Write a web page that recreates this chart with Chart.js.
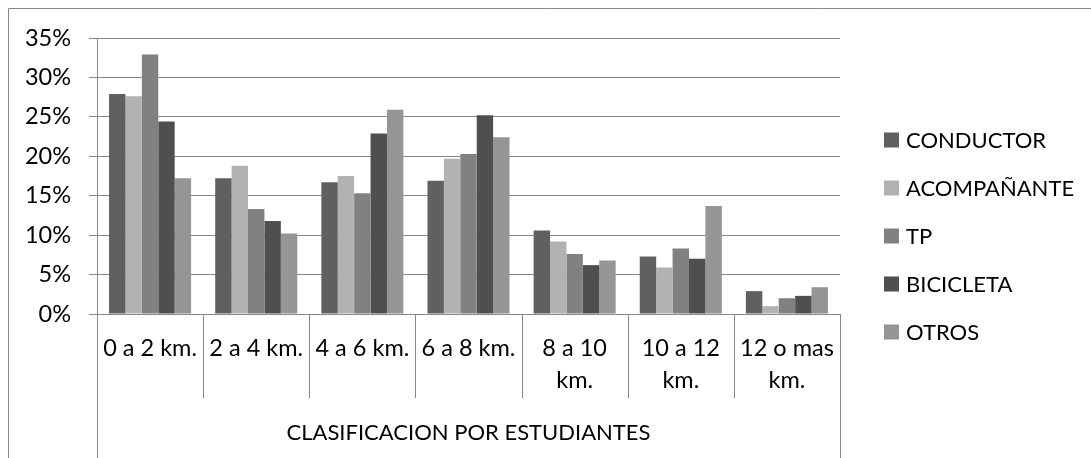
<!DOCTYPE html>
<html lang="es">
<head>
<meta charset="utf-8">
<title>Clasificación por estudiantes</title>
<script src="https://cdn.jsdelivr.net/npm/chart.js@4/dist/chart.umd.min.js"></script>
<style>
  html, body { margin: 0; padding: 0; background: #ffffff; }
  #wrap { width: 1091px; height: 458px; }
</style>
</head>
<body>
<div id="wrap"><canvas id="chart" width="1091" height="458"></canvas></div>
<script>
// Distance bands (two-line labels where the text wraps)
const categories = [
  ['0 a 2 km.'],
  ['2 a 4 km.'],
  ['4 a 6 km.'],
  ['6 a 8 km.'],
  ['8 a 10', 'km.'],
  ['10 a 12', 'km.'],
  ['12 o mas', 'km.']
];
const groupLabel = 'CLASIFICACION POR ESTUDIANTES';

// Share of students per travel mode, in percent
const seriesNames = ['CONDUCTOR', 'ACOMPAÑANTE', 'TP', 'BICICLETA', 'OTROS'];
const conductor   = [27.9, 17.2, 16.7, 16.9, 10.6, 7.3, 2.9];
const acompanante = [27.6, 18.8, 17.5, 19.7, 9.2, 5.9, 1.0];
const tp          = [32.9, 13.3, 15.3, 20.3, 7.6, 8.3, 2.0];
const bicicleta   = [24.4, 11.8, 22.9, 25.2, 6.2, 7.0, 2.3];
const otros       = [17.2, 10.2, 25.9, 22.4, 6.8, 13.7, 3.4];

// Value axis ticks
const yTicks = [0, 5, 10, 15, 20, 25, 30, 35];

const seriesColors = ['#606060', '#b2b2b2', '#818181', '#4f4f4f', '#959595'];
const lineColor = '#888888';
const FONT = 'Lato, "Noto Sans", sans-serif';
const FS = 22;       // capitals: legend and group label
const FS_TICK = 23.5; // tick and category labels

const seriesValues = [conductor, acompanante, tp, bicicleta, otros];

// Frame, category dividers and legend drawn around the plot
const decorations = {
  id: 'decorations',
  afterDraw(chart) {
    const ctx = chart.ctx;
    const x = chart.scales.x;
    const area = chart.chartArea;
    const n = categories.length;
    ctx.save();
    ctx.strokeStyle = lineColor;
    ctx.lineWidth = 1;

    // outer frame (top and left edges)
    ctx.beginPath();
    ctx.moveTo(8.5, chart.height);
    ctx.lineTo(8.5, 8.5);
    ctx.lineTo(chart.width, 8.5);
    ctx.stroke();

    // dividers between category labels; the outer ones enclose the group label
    for (let i = 0; i <= n; i++) {
      let px;
      if (i === 0) px = area.left;
      else if (i === n) px = area.right;
      else px = (x.getPixelForValue(i - 1) + x.getPixelForValue(i)) / 2;
      px = Math.round(px) + 0.5;
      const bottom = (i === 0 || i === n) ? chart.height : area.bottom + 84;
      ctx.beginPath();
      ctx.moveTo(px, area.bottom);
      ctx.lineTo(px, bottom);
      ctx.stroke();
    }

    // legend
    ctx.font = FS + 'px ' + FONT;
    ctx.textBaseline = 'middle';
    ctx.textAlign = 'left';
    chart.data.datasets.forEach((ds, i) => {
      const cy = 140 + i * 48;
      ctx.fillStyle = ds.backgroundColor;
      ctx.fillRect(884, cy - 7.5, 15, 15);
      ctx.fillStyle = '#000000';
      ctx.fillText(ds.label, 906, cy + 1);
    });
    ctx.restore();
  }
};

new Chart(document.getElementById('chart'), {
  type: 'bar',
  data: {
    labels: categories,
    datasets: seriesNames.map((name, i) => ({
      label: name,
      data: seriesValues[i],
      backgroundColor: seriesColors[i],
      borderWidth: 0,
      categoryPercentage: 0.773,
      barPercentage: 1.0
    }))
  },
  options: {
    responsive: false,
    animation: false,
    devicePixelRatio: 1,
    layout: { padding: { top: 38, right: 251, bottom: 0, left: 0 } },
    plugins: {
      legend: { display: false },
      tooltip: { enabled: false }
    },
    scales: {
      x: {
        offset: true,
        grid: { display: false, drawTicks: false },
        border: { display: true, color: lineColor, width: 1 },
        ticks: {
          color: '#000000',
          font: { family: FONT, size: FS_TICK, lineHeight: 32 / FS_TICK },
          padding: 18,
          maxRotation: 0,
          autoSkip: false
        },
        title: {
          display: true,
          text: groupLabel,
          color: '#000000',
          font: { family: FONT, size: FS },
          padding: { top: 0, bottom: 12 }
        },
        afterFit(scale) { scale.height = 144; }
      },
      y: {
        min: 0,
        max: 35,
        afterBuildTicks(scale) { scale.ticks = yTicks.map(v => ({ value: v })); },
        grid: { color: lineColor, lineWidth: 1, drawTicks: true, tickLength: 8, tickColor: lineColor },
        border: { display: true, color: lineColor, width: 1 },
        ticks: {
          color: '#000000',
          font: { family: FONT, size: FS_TICK },
          padding: 18,
          callback: v => v + '%'
        },
        afterFit(scale) { scale.width = 97; }
      }
    }
  },
  plugins: [decorations]
});
</script>
</body>
</html>
